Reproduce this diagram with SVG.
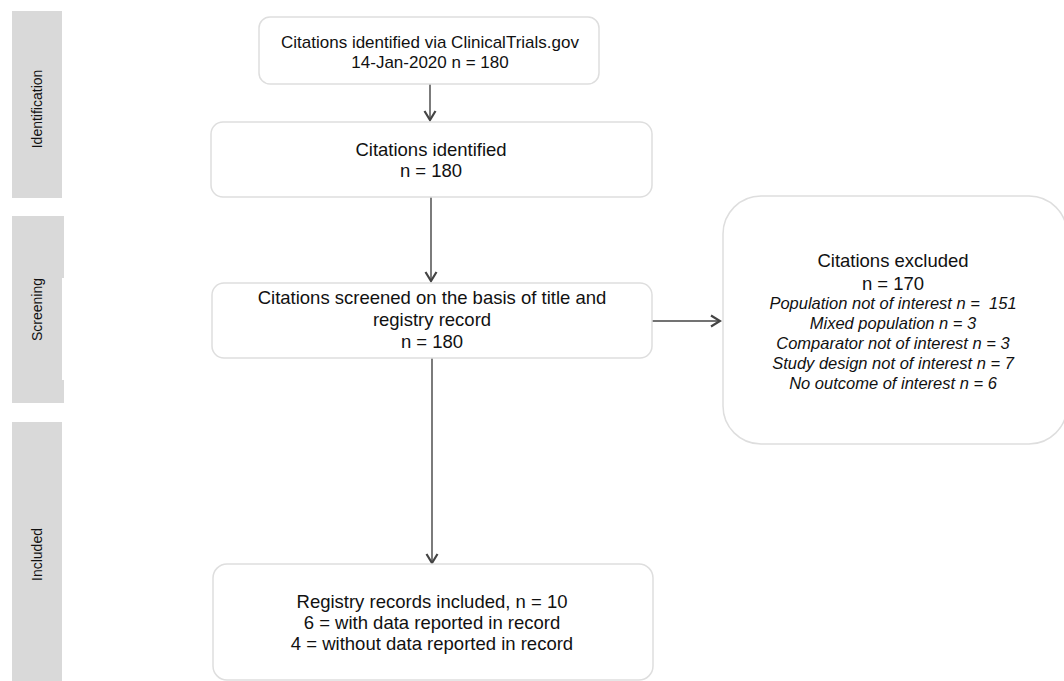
<svg xmlns="http://www.w3.org/2000/svg" width="1064" height="681" viewBox="0 0 1064 681">
<defs>
<style>
.bar{fill:#d9d9d9;stroke:none}
.lbl{font-family:"Liberation Sans",Arial,sans-serif;font-size:14px;fill:#111;text-anchor:middle}
.box{fill:#fff;stroke:#dedede;stroke-width:1.5}
.t{font-family:"Liberation Sans",Arial,sans-serif;font-size:18.5px;fill:#111;text-anchor:middle}
.t17{font-size:17px}
.it{font-family:"Liberation Sans",Arial,sans-serif;font-size:16.5px;font-style:italic;fill:#111;text-anchor:middle;white-space:pre}
.edge{fill:none;stroke:#444;stroke-width:1.4}
</style>
<marker id="arr" viewBox="0 0 14 14" markerWidth="14" markerHeight="14" refX="12" refY="7" orient="auto" markerUnits="userSpaceOnUse">
<path d="M3,1.5 L12,7 L3,12.5" fill="none" stroke="#444" stroke-width="2.2"/>
</marker>
</defs>
<rect width="1064" height="681" fill="#fff"/>

<g id="phase-identification">
<rect class="bar" x="12" y="11" width="50" height="187"/>
<text class="lbl" transform="translate(42 109) rotate(-90)">Identification</text>
</g>
<g id="phase-screening">
<path class="bar" d="M12,216 H64 V278 H62 V380 H64 V403 H12 Z"/>
<text class="lbl" transform="translate(42 309.5) rotate(-90)">Screening</text>
</g>
<g id="phase-included">
<rect class="bar" x="12" y="422" width="50" height="259"/>
<text class="lbl" transform="translate(42 554.5) rotate(-90)">Included</text>
</g>

<g id="connectors">
<line class="edge" x1="430" y1="84" x2="430" y2="120" marker-end="url(#arr)"/>
<line class="edge" x1="431" y1="197" x2="431" y2="281" marker-end="url(#arr)"/>
<line class="edge" x1="652" y1="321" x2="720" y2="321" marker-end="url(#arr)"/>
<line class="edge" x1="432" y1="358" x2="432" y2="563" marker-end="url(#arr)"/>
</g>

<g id="node-clinicaltrials">
<rect class="box" x="259" y="17" width="340" height="67" rx="11"/>
<text class="t t17" x="430" y="48">Citations identified via ClinicalTrials.gov</text>
<text class="t t17" x="430" y="68">14-Jan-2020 n = 180</text>
</g>
<g id="node-identified">
<rect class="box" x="211" y="122" width="441" height="75" rx="12"/>
<text class="t" x="431" y="156">Citations identified</text>
<text class="t" x="431" y="177">n = 180</text>
</g>
<g id="node-screened">
<rect class="box" x="212" y="283" width="440" height="75" rx="12"/>
<text class="t" x="432" y="304">Citations screened on the basis of title and</text>
<text class="t" x="432" y="326">registry record</text>
<text class="t" x="432" y="348">n = 180</text>
</g>
<g id="node-excluded">
<rect class="box" x="723" y="196" width="344" height="248" rx="38"/>
<text class="t" x="893" y="267">Citations excluded</text>
<text class="t" x="893" y="290">n = 170</text>
<text class="it" x="893" y="309">Population not of interest n = &#160;151</text>
<text class="it" x="893" y="329">Mixed population n = 3</text>
<text class="it" x="893" y="349">Comparator not of interest n = 3</text>
<text class="it" x="893" y="369">Study design not of interest n = 7</text>
<text class="it" x="893" y="389">No outcome of interest n = 6</text>
</g>
<g id="node-included">
<rect class="box" x="213" y="564" width="440" height="116" rx="14"/>
<text class="t" x="432" y="608">Registry records included, n = 10</text>
<text class="t" x="432" y="629">6 = with data reported in record</text>
<text class="t" x="432" y="650">4 = without data reported in record</text>
</g>
</svg>
